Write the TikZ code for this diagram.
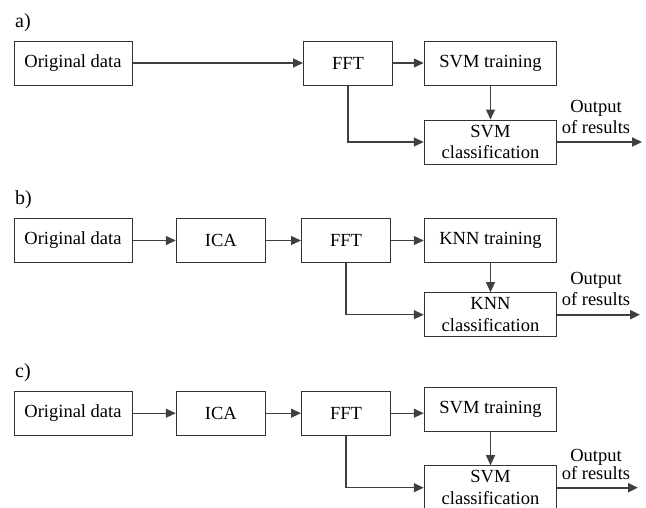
\documentclass[tikz,border=0pt]{standalone}
\usepackage{fontspec}
\setmainfont{Liberation Serif}
\usetikzlibrary{arrows.meta}
\begin{document}
\begin{tikzpicture}[x=1pt,y=-1pt,
  box/.style={draw=black!80, line width=1pt, inner sep=0pt, align=center,
    font=\fontsize{18.5}{21.5}\selectfont, minimum height=44pt},
  wide/.style={minimum width=118pt},
  mid/.style={minimum width=89pt},
  side/.style={minimum width=132.5pt},
  conn/.style={draw=black!75, line width=1.3pt, -{Triangle[length=10pt,width=9pt]}},
  outarrow/.style={draw=black!75, line width=2.2pt, -{Triangle[length=10pt,width=9pt]}},
  lbl/.style={font=\fontsize{20}{22}\selectfont, anchor=base west, inner sep=0pt},
  outtext/.style={align=center, inner sep=0pt, font=\fontsize{18.5}{21}\selectfont}]
\useasboundingbox (0,0) rectangle (646,507);
\clip (0,0) rectangle (646,507);

% ---- a) ----
\node[lbl] (la) at (15,27.3) {a)};
\node[box,wide] (a1) at (73,63) {Original data};
\node[box,mid]  (a2) at (348,63) {FFT};
\node[box,side] (a3) at (490.5,63) {SVM training};
\node[box,side] (a4) at (490.5,142) {SVM\\classification};
\node[outtext] (ta) at (596,117) {Output\\of results};
\coordinate (ea) at (642,142);
\draw[conn] (a1) -- (a2);
\draw[conn] (a2) -- (a3);
\draw[conn] (a3) -- (a4);
\draw[conn] (a2.south) |- (a4.west);
\draw[outarrow] (a4.east) -- (ea);

% ---- b) ----
\node[lbl] (lb) at (15,204) {b)};
\node[box,wide] (b1) at (73,240.5) {Original data};
\node[box,mid]  (b2) at (220.8,240.5) {ICA};
\node[box,mid]  (b3) at (346,240.5) {FFT};
\node[box,side] (b4) at (490.5,240.5) {KNN training};
\node[box,side] (b5) at (490.5,314.7) {KNN\\classification};
\node[outtext] (tb) at (596,289) {Output\\of results};
\coordinate (eb) at (640,314.7);
\draw[conn] (b1) -- (b2);
\draw[conn] (b2) -- (b3);
\draw[conn] (b3) -- (b4);
\draw[conn] (b4) -- (b5);
\draw[conn] (b3.south) |- (b5.west);
\draw[outarrow] (b5.east) -- (eb);

% ---- c) ----
\node[lbl] (lc) at (15,377.3) {c)};
\node[box,wide] (c1) at (73,413.2) {Original data};
\node[box,mid]  (c2) at (220.8,413.2) {ICA};
\node[box,mid]  (c3) at (346,413.2) {FFT};
\node[box,side] (c4) at (490.5,409.8) {SVM training};
\node[box,side] (c5) at (490.5,487.7) {SVM\\classification};
\node[outtext, font=\fontsize{18.5}{16}\selectfont] (tc) at (596,464) {Output\\of results};
\coordinate (ec) at (638,487.7);
\draw[conn] (c1) -- (c2);
\draw[conn] (c2) -- (c3);
\draw[conn] (c3) -- (c3 -| c4.west);
\draw[conn] (c4) -- (c5);
\draw[conn] (c3.south) |- (c5.west);
\draw[outarrow] (c5.east) -- (ec);
\end{tikzpicture}
\end{document}
